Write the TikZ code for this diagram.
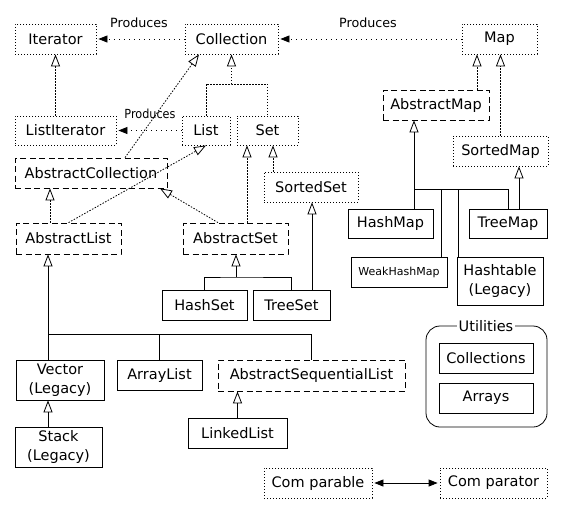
\documentclass[tikz,border=0pt]{standalone}
\usepackage{fontspec}
\setmainfont{DejaVu Sans}
\newfontfamily\condfont{DejaVu Sans Condensed}
\usetikzlibrary{arrows.meta}

\begin{document}
\begin{tikzpicture}[x=1pt,y=-1pt,
	box/.style={draw,line width=0.8pt,inner sep=0pt,minimum height=30pt,align=center,
		font=\fontsize{14.5}{18.5}\selectfont},
	iface/.style={box,dash pattern=on 1pt off 2pt},
	abstr/.style={box,dash pattern=on 6pt off 3.5pt},
	concrete/.style={box},
	ifext/.style={line width=0.8pt,dash pattern=on 1.5pt off 1.5pt,-{Triangle[open,width=9pt,length=12pt]}},
	clext/.style={line width=0.8pt,-{Triangle[open,width=9pt,length=12pt]}},
	bus/.style={line width=0.8pt},
	produces/.style={line width=0.8pt,dash pattern=on 1pt off 4pt,-{Triangle[width=7pt,length=9pt]},shorten >=2pt},
	lbl/.style={font=\fontsize{12.7}{15}\selectfont}]
	\useasboundingbox (0,0) rectangle (578,504);

	% interfaces
	\node[iface,minimum width=81pt] (iter) at (55.5,39) {Iterator};
	\node[iface,minimum width=93pt] (coll) at (231.5,39) {Collection};
	\node[iface,minimum width=75pt] (map) at (499.5,39) {Map};
	\node[iface,minimum width=101pt,minimum height=29pt] (listiter) at (65.5,130.5) {ListIterator};
	\node[iface,minimum width=48pt,minimum height=29pt] (list) at (206,130.5) {List};
	\node[iface,minimum width=61pt,minimum height=29pt] (set) at (267.5,130.5) {Set};
	\node[iface,minimum width=94pt] (sset) at (311,187) {SortedSet};
	\node[iface,minimum width=95pt] (smap) at (500.5,151) {SortedMap};
	\node[iface,minimum width=108pt] (cmpble) at (318,483) {Com parable};
	\node[iface,minimum width=107pt] (cmptor) at (493.5,483) {Com parator};

	% abstract classes
	\node[abstr,minimum width=152pt] (acoll) at (91,173) {AbstractCollection};
	\node[abstr,minimum width=105pt,minimum height=31pt] (alist) at (68.5,238.5) {AbstractList};
	\node[abstr,minimum width=105pt,minimum height=31pt] (aset) at (235.5,238.5) {AbstractSet};
	\node[abstr,minimum width=106pt] (amap) at (436,105) {AbstractMap};
	\node[abstr,minimum width=187pt,minimum height=31pt] (asl) at (311.5,375.5) {AbstractSequentialList};

	% concrete classes
	\node[concrete,minimum width=85pt] (hashset) at (204.5,305) {HashSet};
	\node[concrete,minimum width=77pt] (treeset) at (291.5,305) {TreeSet};
	\node[concrete,minimum width=85pt,minimum height=29pt] (hashmap) at (390.5,223.5) {HashMap};
	\node[concrete,minimum width=78pt,minimum height=29pt] (treemap) at (508,223.5) {TreeMap};
	\node[concrete,minimum width=96pt,font=\fontsize{11}{13}\selectfont] (weak) at (399,272) {WeakHashMap};
	\node[concrete,minimum width=86pt,minimum height=48pt] (hasht) at (500,281) {Hashtable\\(Legacy)};
	\node[concrete,minimum width=88pt,minimum height=40pt] (vector) at (60,380) {Vector\\(Legacy)};
	\node[concrete,minimum width=85pt] (arrlist) at (159.5,375) {ArrayList};
	\node[concrete,minimum width=87pt,minimum height=40pt] (stack) at (58.5,447) {Stack\\(Legacy)};
	\node[concrete,minimum width=99pt] (linked) at (237.5,433) {LinkedList};

	% utilities
	\draw[line width=0.8pt,rounded corners=14pt] (426,326) rectangle (547,427);
	\node[box,draw=none,fill=white,inner sep=2pt,minimum height=0pt] (util) at (486,326) {Utilities};
	\node[concrete,minimum width=94pt] (colls) at (486,358) {Collections};
	\node[concrete,minimum width=94pt] (arrays) at (486,398) {Arrays};

	% produces
	\draw[produces] (coll.west) -- (iter.east);
	\node[lbl] (prod1) at (139,23) {Produces};
	\draw[produces] (map.west) -- (coll.east);
	\node[lbl] (prod2) at (368,23) {Produces};
	\draw[produces] (list.west) -- (listiter.east);
	\node[font=\condfont\fontsize{12.5}{14}\selectfont] (prod3) at (150,114) {Produces};

	% collection tree
	\draw[ifext] (listiter.north -| iter.south) -- (iter.south);
	\coordinate (cbus) at (231.5,84);
	\draw[bus,dash pattern=on 1.5pt off 1.5pt] (list.north) |- (cbus) -| (set.north);
	\draw[ifext] (cbus) -- (coll.south);
	\draw[ifext] ([xshift=34pt]acoll.north) -- ([xshift=-32.5pt]coll.south);
	\draw[ifext] (alist.north) -- (list.south);
	\draw[ifext] ([xshift=-18.5pt]alist.north) -- ([xshift=-18.5pt]alist.north |- acoll.south);
	\draw[ifext] ([xshift=-17.5pt]aset.north) -- ([xshift=69pt]acoll.south);
	\draw[ifext] ([xshift=11.5pt]aset.north) -- ([xshift=11.5pt]aset.north |- set.south);
	\draw[ifext] ([xshift=-38pt]sset.north) -- ([xshift=-38pt]sset.north |- set.south);

	% sets
	\coordinate (sbus) at (236,277);
	\draw[clext] (sbus) -- (sbus |- aset.south);
	\draw[bus] (hashset.north) |- (sbus) -| (treeset.north);
	\draw[clext] ([xshift=20.5pt]treeset.north) -- ([xshift=20.5pt]treeset.north |- sset.south);

	% lists
	\coordinate (lbus) at (48,334);
	\draw[clext] (lbus) -- (lbus |- alist.south);
	\draw[bus] (vector.north -| lbus) -- (lbus) -| (asl.north);
	\draw[bus] (arrlist.north) -- (arrlist.north |- lbus);
	\draw[clext] (stack.north -| lbus) -- (vector.south -| lbus);
	\draw[clext] (linked.north) -- (linked.north |- asl.south);

	% maps
	\draw[ifext] ([xshift=41pt]amap.north) -- ([xshift=41pt]amap.north |- map.south);
	\draw[ifext] (smap.north) -- (smap.north |- map.south);
	\coordinate (mbus) at (414,189);
	\coordinate (mbus2) at (441,189);
	\coordinate (mbus3) at (458,189);
	\draw[clext] (mbus) -- (mbus |- amap.south);
	\draw[bus] (hashmap.north -| mbus) -- (mbus) -| (treemap.north);
	\draw[bus] (mbus2) -- (mbus2 |- weak.north);
	\draw[bus] (mbus3) -- (mbus3 |- hasht.north);
	\draw[clext] ([xshift=11pt]treemap.north) -- ([xshift=11pt]treemap.north |- smap.south);

	% comparable
	\draw[line width=0.8pt,{Triangle[width=7pt,length=9pt]}-{Triangle[width=7pt,length=9pt]},shorten <=2pt,shorten >=2pt] (cmpble.east) -- (cmptor.west);
\end{tikzpicture}
\end{document}
